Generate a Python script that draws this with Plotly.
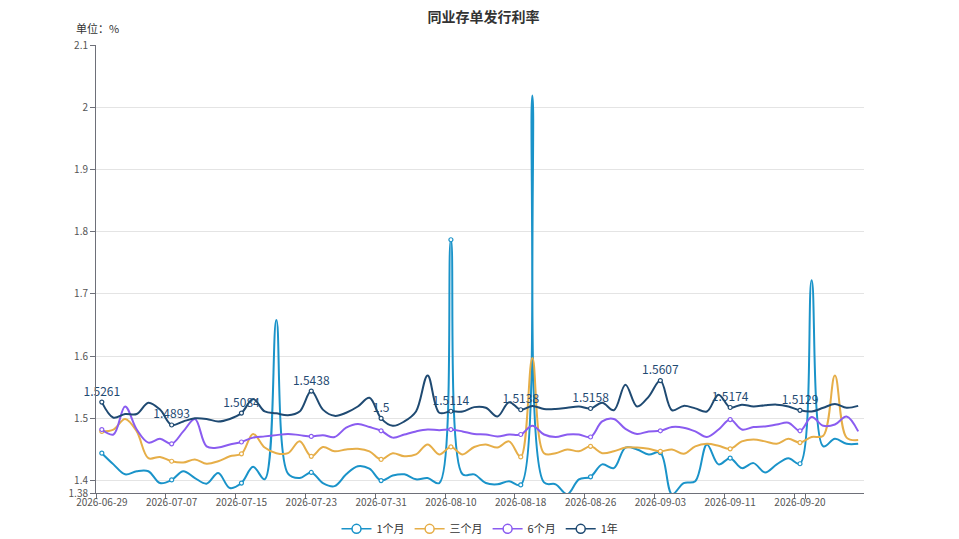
import plotly.graph_objects as go

# trading days on the category axis
dates = [
    "2026-06-29", "2026-06-30", "2026-07-01", "2026-07-02", "2026-07-03",
    "2026-07-06", "2026-07-07", "2026-07-08", "2026-07-09", "2026-07-10",
    "2026-07-13", "2026-07-14", "2026-07-15", "2026-07-16", "2026-07-17",
    "2026-07-20", "2026-07-21", "2026-07-22", "2026-07-23", "2026-07-24",
    "2026-07-27", "2026-07-28", "2026-07-29", "2026-07-30", "2026-07-31",
    "2026-08-03", "2026-08-04", "2026-08-05", "2026-08-06", "2026-08-07",
    "2026-08-10", "2026-08-11", "2026-08-12", "2026-08-13", "2026-08-14",
    "2026-08-17", "2026-08-18", "2026-08-19", "2026-08-20", "2026-08-21",
    "2026-08-24", "2026-08-25", "2026-08-26", "2026-08-27", "2026-08-28",
    "2026-08-31", "2026-09-01", "2026-09-02", "2026-09-03", "2026-09-04",
    "2026-09-07", "2026-09-08", "2026-09-09", "2026-09-10", "2026-09-11",
    "2026-09-14", "2026-09-15", "2026-09-16", "2026-09-17", "2026-09-18",
    "2026-09-20", "2026-09-21", "2026-09-22", "2026-09-23", "2026-09-24",
    "2026-09-25",
]

rate_1m = [
    1.444, 1.426, 1.410, 1.415, 1.415, 1.396, 1.401, 1.415, 1.404, 1.395,
    1.412, 1.388, 1.396, 1.422, 1.402, 1.658, 1.411, 1.404, 1.413, 1.396,
    1.391, 1.410, 1.423, 1.419, 1.400, 1.408, 1.410, 1.402, 1.404, 1.396,
    1.787, 1.410, 1.410, 1.396, 1.394, 1.399, 1.393, 2.019, 1.397, 1.394,
    1.378, 1.402, 1.406, 1.426, 1.420, 1.453, 1.450, 1.442, 1.445, 1.378,
    1.396, 1.399, 1.458, 1.426, 1.436, 1.420, 1.428, 1.413, 1.426, 1.436,
    1.427, 1.722, 1.455, 1.467, 1.459, 1.459,
]
rate_3m = [
    1.479, 1.482, 1.499, 1.479, 1.436, 1.438, 1.431, 1.429, 1.434, 1.427,
    1.431, 1.439, 1.443, 1.475, 1.453, 1.444, 1.444, 1.463, 1.439, 1.454,
    1.447, 1.450, 1.451, 1.447, 1.434, 1.444, 1.439, 1.442, 1.458, 1.442,
    1.454, 1.442, 1.454, 1.458, 1.453, 1.463, 1.438, 1.597, 1.444, 1.444,
    1.450, 1.447, 1.455, 1.444, 1.447, 1.453, 1.453, 1.451, 1.447, 1.450,
    1.443, 1.455, 1.459, 1.456, 1.451, 1.463, 1.466, 1.463, 1.459, 1.467,
    1.461, 1.470, 1.472, 1.569, 1.469, 1.465,
]
rate_6m = [
    1.482, 1.474, 1.519, 1.482, 1.461, 1.467, 1.459, 1.479, 1.499, 1.455,
    1.453, 1.458, 1.462, 1.469, 1.471, 1.473, 1.475, 1.473, 1.471, 1.473,
    1.470, 1.485, 1.491, 1.486, 1.480, 1.469, 1.474, 1.479, 1.482, 1.481,
    1.482, 1.479, 1.475, 1.474, 1.471, 1.474, 1.474, 1.488, 1.474, 1.470,
    1.474, 1.474, 1.470, 1.495, 1.499, 1.483, 1.475, 1.479, 1.480, 1.486,
    1.485, 1.479, 1.470, 1.482, 1.498, 1.482, 1.486, 1.487, 1.490, 1.493,
    1.480, 1.502, 1.488, 1.490, 1.503, 1.479,
]
rate_1y = [
    1.5261, 1.501, 1.507, 1.507, 1.525, 1.514, 1.4893, 1.495, 1.500, 1.499,
    1.495, 1.499, 1.5084, 1.531, 1.511, 1.508, 1.505, 1.511, 1.5438, 1.514,
    1.504, 1.509, 1.519, 1.533, 1.5, 1.488, 1.495, 1.511, 1.569, 1.509,
    1.5114, 1.511, 1.518, 1.517, 1.503, 1.526, 1.5138, 1.520, 1.515, 1.515,
    1.517, 1.519, 1.5158, 1.525, 1.513, 1.554, 1.519, 1.535, 1.5607, 1.513,
    1.520, 1.516, 1.511, 1.538, 1.5174, 1.522, 1.519, 1.521, 1.522, 1.519,
    1.5129, 1.511, 1.517, 1.523, 1.517, 1.520,
]

series = [
    ("1个月", rate_1m, "#1a93c9"),
    ("三个月", rate_3m, "#e6ae48"),
    ("6个月", rate_6m, "#8a5cf0"),
    ("1年", rate_1y, "#1f4a72"),
]

y_ticks = [1.38, 1.4, 1.5, 1.6, 1.7, 1.8, 1.9, 2.0, 2.1]
y_tick_text = ["1.38", "1.4", "1.5", "1.6", "1.7", "1.8", "1.9", "2", "2.1"]

LABEL_STEP = 6
_FONT = "Noto Sans CJK SC, Microsoft YaHei, sans-serif"
_AXIS_COLOR = "#6e7079"
# the page body has an 8px margin, so the figure is shrunk to fit the window
_PAGE_OFFSET = 8

fig = go.Figure()
for name, values, color in series:
    fig.add_trace(
        go.Scatter(
            x=dates,
            y=values,
            mode="lines",
            line={"color": color, "width": 2, "shape": "spline", "smoothing": 1},
            name=name,
            legendgroup=name,
            showlegend=False,
            hoverinfo="x+y+name",
        )
    )
    # symbols (and labels for 1年) only every LABEL_STEP categories
    marked_x = dates[::LABEL_STEP]
    marked_y = values[::LABEL_STEP]
    fig.add_trace(
        go.Scatter(
            x=marked_x,
            y=marked_y,
            mode="markers+text" if name == "1年" else "markers",
            marker={"symbol": "circle", "size": 4, "color": "white",
                    "line": {"color": color, "width": 1.2}},
            text=[f"{v:g}" for v in marked_y] if name == "1年" else None,
            textposition="top center",
            textfont={"color": color, "size": 12, "family": _FONT},
            cliponaxis=False,
            legendgroup=name,
            showlegend=False,
            hoverinfo="skip",
        )
    )
    # legend entry: line with an open circle
    fig.add_trace(
        go.Scatter(
            x=[None],
            y=[None],
            mode="lines+markers",
            line={"color": color, "width": 1.5},
            marker={"symbol": "circle", "size": 9, "color": "white",
                    "line": {"color": color, "width": 1.5}},
            name=name,
            legendgroup=name,
        )
    )

fig.update_layout(
    width=959 - _PAGE_OFFSET,
    height=539 - _PAGE_OFFSET,
    paper_bgcolor="white",
    plot_bgcolor="white",
    margin={"l": 96 - _PAGE_OFFSET, "r": 95, "t": 45 - _PAGE_OFFSET, "b": 46,
            "autoexpand": False},
    font={"family": _FONT, "color": "#333333", "size": 10},
    title={
        "text": "<b>同业存单发行利率</b>",
        "x": 0.5,
        "xanchor": "center",
        "y": 1.0,
        "yanchor": "top",
        "pad": {"t": 4},
        "font": {"size": 14, "color": "#333333", "family": _FONT},
    },
    legend={
        "orientation": "h",
        "x": 0.5,
        "xanchor": "center",
        "y": -0.08,
        "yanchor": "middle",
        "font": {"size": 11, "color": "#333333"},
        "itemwidth": 30,
    },
    showlegend=True,
    annotations=[
        {
            "text": "单位：%",
            "xref": "paper",
            "yref": "paper",
            "x": -0.028,
            "y": 1.0,
            "xanchor": "left",
            "yanchor": "middle",
            "yshift": 17,
            "showarrow": False,
            "font": {"size": 11, "color": "#333333"},
        }
    ],
)
fig.update_xaxes(
    type="category",
    range=[-0.5, len(dates) - 0.5],
    tickmode="array",
    tickvals=dates[::LABEL_STEP],
    tickson="boundaries",
    tickangle=0,
    automargin=False,
    ticks="outside",
    ticklen=5,
    tickcolor=_AXIS_COLOR,
    showline=True,
    linecolor=_AXIS_COLOR,
    linewidth=1,
    showgrid=False,
    zeroline=False,
    tickfont={"size": 10, "color": "#555555"},
)
fig.update_yaxes(
    range=[1.38, 2.1],
    tickmode="array",
    tickvals=y_ticks,
    ticktext=y_tick_text,
    automargin=False,
    ticks="outside",
    ticklen=5,
    tickcolor=_AXIS_COLOR,
    showline=True,
    linecolor=_AXIS_COLOR,
    linewidth=1,
    showgrid=True,
    gridcolor="#e4e4e4",
    zeroline=False,
    tickfont={"size": 10, "color": "#555555"},
)

fig.write_html("out.html")
